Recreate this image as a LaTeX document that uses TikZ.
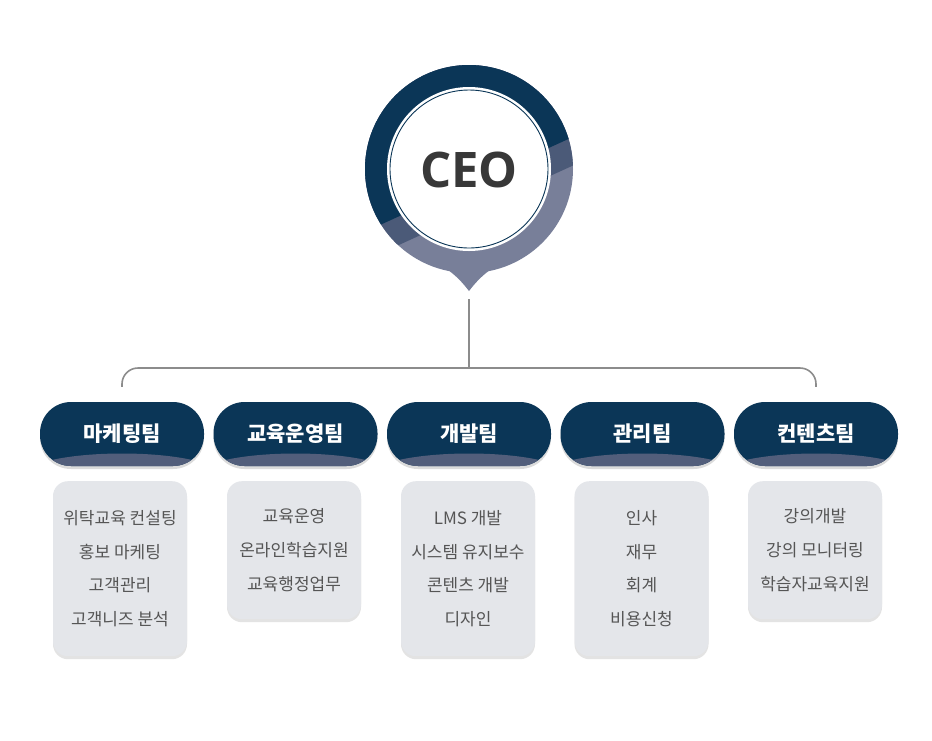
\documentclass[tikz,border=0pt]{standalone}
\usepackage{fontspec}
\usetikzlibrary{shadows}
\newfontfamily\kr{Noto Sans CJK KR}
\newfontfamily\osans{Open Sans}
\definecolor{navy}{HTML}{0B3657}
\definecolor{midband}{HTML}{4B5A78}
\definecolor{lightband}{HTML}{787F99}
\definecolor{pillband}{HTML}{525E7B}
\definecolor{boxfill}{HTML}{E4E6EA}
\definecolor{textgray}{HTML}{555555}
\definecolor{linegray}{HTML}{8C8C8C}
\definecolor{ceogray}{HTML}{383838}
\begin{document}
\begin{tikzpicture}[x=1pt,y=-1pt,
  pill/.style={fill=navy, rounded corners=31pt, minimum width=164pt, minimum height=64pt,
    inner sep=0pt, text=white, font=\kr\bfseries\fontsize{21}{25}\selectfont,
    drop shadow={opacity=0.28, shadow xshift=0pt, shadow yshift=-3pt},
    path picture={\fill[pillband] ([yshift=-41pt]path picture bounding box.center) ellipse (98pt and 21.5pt);}},
  subbox/.style={fill=boxfill, rounded corners=15pt, minimum width=134pt, anchor=north,
    inner sep=0pt, align=center, text=textgray, font=\kr\fontsize{17}{33.7}\selectfont,
    drop shadow={opacity=0.22, shadow xshift=0pt, shadow yshift=-3pt}},
  conn/.style={draw=linegray, line width=1.6pt}
]
\fill[white] (0,0) rectangle (932,740);
\useasboundingbox (0,0) rectangle (932,740);

% CEO badge
\fill[lightband] (442,266) .. controls (455,274) and (462,282) .. (469,291)
  .. controls (476,282) and (483,274) .. (496,266) -- cycle;
\fill[lightband] (469,169) circle (104pt);
\begin{scope}
  \clip (469,169) circle (104pt);
  \fill[midband] (349.1,267.7) -- (622.1,143.1) -- (528.3,-62.6) -- (255.3,62.0) -- cycle;
  \fill[navy] (338.3,244.0) -- (611.3,119.4) -- (528.3,-62.6) -- (255.3,62.0) -- cycle;
\end{scope}
\fill[white] (469,169) circle (82pt);
\draw[navy, line width=0.9pt] (469,169) circle (79pt);
\node[font=\osans\bfseries\fontsize{49}{56}\selectfont, text=ceogray] (ceo) at (469,170) {CEO};
\coordinate (stem) at (469,299);
\coordinate (bus) at (469,368);

% teams
\node[pill] (t1) at (122,434) {마케팅팀};
\node[pill] (t2) at (295.5,434) {교육운영팀};
\node[pill] (t3) at (469,434) {개발팀};
\node[pill] (t4) at (642.5,434) {관리팀};
\node[pill] (t5) at (816,434) {컨텐츠팀};

% connectors
\draw[conn] (stem) -- (bus);
\draw[conn, rounded corners=16pt] ([yshift=15pt]t1.north) -- (t1.north |- bus) -- (t5.north |- bus) -- ([yshift=15pt]t5.north);

% task boxes
\node[subbox, minimum height=175pt] (b1) at (120,481) {위탁교육 컨설팅\\홍보 마케팅\\고객관리\\고객니즈 분석};
\node[subbox, minimum height=138pt] (b2) at (294,481) {교육운영\\온라인학습지원\\교육행정업무};
\node[subbox, minimum height=175pt] (b3) at (468,481) {LMS 개발\\시스템 유지보수\\콘텐츠 개발\\디자인};
\node[subbox, minimum height=175pt] (b4) at (641.5,481) {인사\\재무\\회계\\비용신청};
\node[subbox, minimum height=138pt] (b5) at (815,481) {강의개발\\강의 모니터링\\학습자교육지원};
\end{tikzpicture}
\end{document}
